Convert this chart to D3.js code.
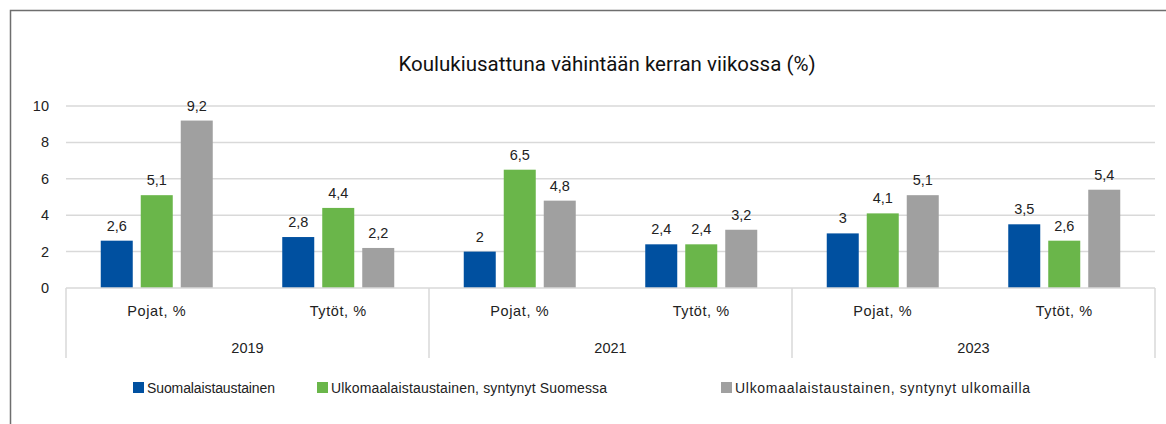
<!DOCTYPE html>
<html>
<head>
<meta charset="utf-8">
<script src="https://cdn.jsdelivr.net/npm/d3@7"></script>
<style>
  body { margin: 0; background: #fff; }
  text { font-family: "Liberation Sans", Arial, sans-serif; fill: #222; }
</style>
</head>
<body>
<div id="chart"></div>
<script>
// chart size
var w = 1166;
var h = 424;

// data
var years = ["2019", "2021", "2023"];
var genders = ["Pojat, %", "Tytöt, %"];
var seriesNames = [
  "Suomalaistaustainen",
  "Ulkomaalaistaustainen, syntynyt Suomessa",
  "Ulkomaalaistaustainen, syntynyt ulkomailla"
];
var suomalais = [2.6, 2.8, 2, 2.4, 3, 3.5];
var syntSuomessa = [5.1, 4.4, 6.5, 2.4, 4.1, 2.6];
var syntUlkomailla = [9.2, 2.2, 4.8, 3.2, 5.1, 5.4];
var yTicks = [0, 2, 4, 6, 8, 10];
var colors = ["#0050a0", "#6ab64a", "#a0a0a0"];

var seriesValues = [suomalais, syntSuomessa, syntUlkomailla];

// categories: year x gender
var cats = [];
years.forEach(function(y) {
  genders.forEach(function(g) { cats.push(y + "|" + g); });
});

var plotLeft = 66, plotRight = 1155, plotTop = 106, base = 288;

var svg = d3.select("#chart").append("svg")
  .attr("width", w)
  .attr("height", h);

// outer frame (only top + left visible in the shot)
svg.append("rect")
  .attr("x", 10.5).attr("y", 10.5)
  .attr("width", w + 20).attr("height", h + 20)
  .attr("fill", "none")
  .attr("stroke", "#6e6e6e")
  .attr("stroke-width", 1.5);

// title
svg.append("text")
  .attr("x", 607).attr("y", 71)
  .attr("text-anchor", "middle")
  .style("font-family", "Roboto, sans-serif")
  .style("font-size", "20.5px")
  .style("fill", "#111")
  .text("Koulukiusattuna vähintään kerran viikossa (%)");

var yScale = d3.scaleLinear().domain([0, 10]).range([base, plotTop]);
var xScale = d3.scaleBand().domain(cats).range([plotLeft, plotRight]);
var yearScale = d3.scaleBand().domain(years).range([plotLeft, plotRight]);
var x1 = d3.scaleBand().domain(d3.range(3)).range([0, 112]).paddingInner(0.2).paddingOuter(0);

// gridlines
svg.append("g").selectAll("line")
  .data(yTicks.filter(function(d) { return d > 0; }))
  .enter().append("line")
  .attr("x1", plotLeft).attr("x2", plotRight)
  .attr("y1", function(d) { return yScale(d); })
  .attr("y2", function(d) { return yScale(d); })
  .attr("stroke", "#d9d9d9")
  .attr("stroke-width", 1.5);

// y labels
svg.append("g").selectAll("text")
  .data(yTicks)
  .enter().append("text")
  .attr("x", 49)
  .attr("y", function(d) { return yScale(d) + 5; })
  .attr("text-anchor", "end")
  .style("font-size", "14.5px")
  .text(function(d) { return d; });

// bars
var fmt = function(v) { return String(v).replace(".", ","); };
var barData = [];
cats.forEach(function(c, i) {
  seriesValues.forEach(function(vals, s) {
    barData.push({ cat: c, s: s, v: vals[i] });
  });
});

var bars = svg.append("g");
bars.selectAll("rect")
  .data(barData)
  .enter().append("rect")
  .attr("x", function(d) { return xScale(d.cat) + xScale.bandwidth() / 2 - 56 + x1(d.s); })
  .attr("y", function(d) { return yScale(d.v); })
  .attr("width", x1.bandwidth())
  .attr("height", function(d) { return base - yScale(d.v); })
  .attr("fill", function(d) { return colors[d.s]; });

bars.selectAll("text")
  .data(barData)
  .enter().append("text")
  .attr("x", function(d) { return xScale(d.cat) + xScale.bandwidth() / 2 - 56 + x1(d.s) + x1.bandwidth() / 2; })
  .attr("y", function(d) { return yScale(d.v) - 10; })
  .attr("text-anchor", "middle")
  .style("font-size", "14.5px")
  .text(function(d) { return fmt(d.v); });

// x axis line
svg.append("line")
  .attr("x1", plotLeft).attr("x2", plotRight)
  .attr("y1", base).attr("y2", base)
  .attr("stroke", "#d9d9d9").attr("stroke-width", 1.5);

// year dividers
var divX = years.map(function(y) { return yearScale(y); }).concat([plotRight]);
svg.append("g").selectAll("line")
  .data(divX)
  .enter().append("line")
  .attr("x1", function(d) { return d; }).attr("x2", function(d) { return d; })
  .attr("y1", base).attr("y2", 358)
  .attr("stroke", "#d9d9d9").attr("stroke-width", 1.5);

// gender labels
svg.append("g").selectAll("text")
  .data(cats)
  .enter().append("text")
  .attr("x", function(d) { return xScale(d) + xScale.bandwidth() / 2; })
  .attr("y", 316)
  .attr("text-anchor", "middle")
  .style("font-size", "14.5px")
  .style("letter-spacing", "0.6px")
  .text(function(d) { return d.split("|")[1]; });

// year labels
svg.append("g").selectAll("text")
  .data(years)
  .enter().append("text")
  .attr("x", function(d) { return yearScale(d) + yearScale.bandwidth() / 2; })
  .attr("y", 353)
  .attr("text-anchor", "middle")
  .style("font-size", "14.5px")
  .text(function(d) { return d; });

// legend
var legX = [133, 317, 721];
var legLen = [128, 276, 295];
var leg = svg.append("g").selectAll("g")
  .data(seriesNames)
  .enter().append("g")
  .attr("transform", function(d, i) { return "translate(" + legX[i] + ",382)"; });
leg.append("rect")
  .attr("width", 11).attr("height", 11)
  .attr("fill", function(d, i) { return colors[i]; });
leg.append("text")
  .attr("x", 14).attr("y", 11)
  .attr("textLength", function(d, i) { return legLen[i]; })
  .attr("lengthAdjust", "spacing")
  .style("font-size", "14px")
  .text(function(d) { return d; });
</script>
</body>
</html>
